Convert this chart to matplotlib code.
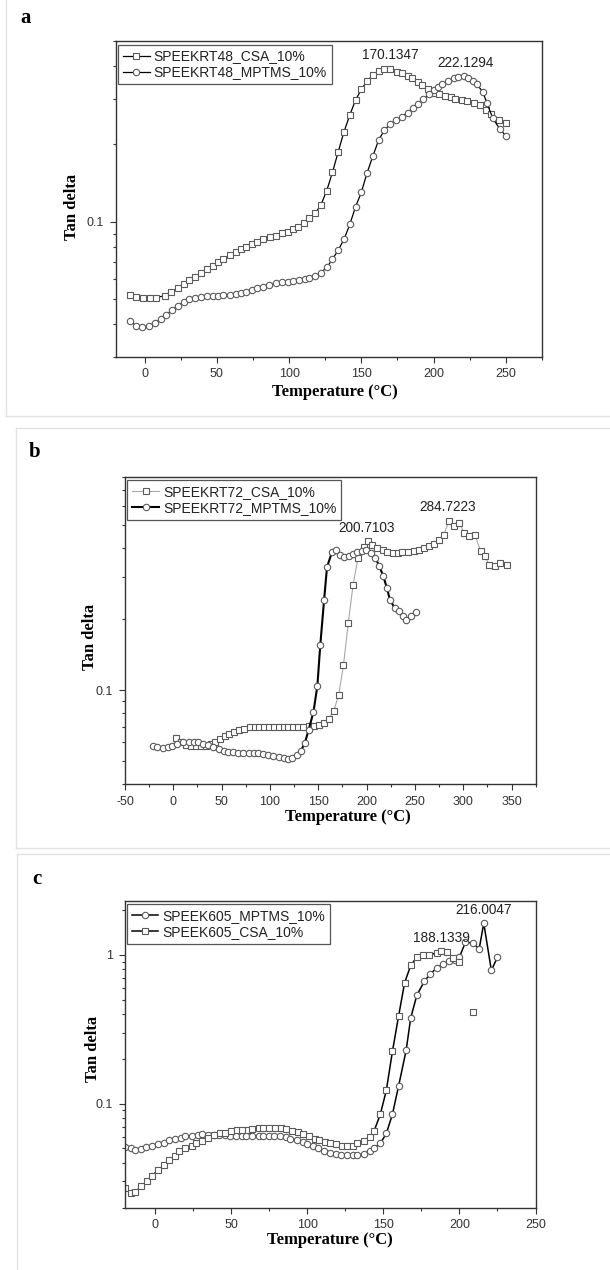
import numpy as np
import matplotlib
matplotlib.use("Agg")
import matplotlib.pyplot as plt
from matplotlib.ticker import MultipleLocator, FixedLocator, LogLocator, NullFormatter, FuncFormatter
from matplotlib.lines import Line2D

plt.rcParams["axes.unicode_minus"] = False

# ---- panel a: SPEEKRT48 ----
a_csa_t = [-10, -6, -1, 4, 8, 14, 18, 23, 27, 31, 35, 39, 43, 47, 51, 54, 59, 63, 67, 70,
           74, 78, 82, 87, 91, 95, 99, 103, 106, 110, 114, 118, 122, 126, 130, 134, 138, 142,
           146, 150, 154, 158, 162, 166, 170, 175, 178, 182, 185, 189, 192, 196, 200, 204,
           208, 212, 215, 220, 223, 228, 232, 236, 240, 245, 250]
a_csa_v = [0.0520, 0.0509, 0.0505, 0.0505, 0.0508, 0.0517, 0.0536, 0.0552, 0.0572, 0.0594,
           0.0612, 0.0631, 0.0654, 0.0676, 0.0696, 0.0715, 0.0743, 0.0765, 0.0781, 0.0800,
           0.0817, 0.0837, 0.0855, 0.0870, 0.0883, 0.0901, 0.0915, 0.0934, 0.0957, 0.0986,
           0.1030, 0.1078, 0.1161, 0.1319, 0.1553, 0.1868, 0.2233, 0.2591, 0.2963, 0.3259,
           0.3510, 0.3703, 0.3849, 0.3895, 0.3900, 0.381, 0.376, 0.367, 0.360, 0.349, 0.339,
           0.326, 0.316, 0.312, 0.307, 0.304, 0.299, 0.296, 0.294, 0.289, 0.283, 0.272, 0.262,
           0.248, 0.242]
a_mptms_t = [-10, -6, -2, 3, 7, 11, 15, 19, 23, 27, 31, 35, 39, 43, 47, 51, 54, 59, 63, 67,
             70, 74, 78, 82, 86, 91, 95, 99, 103, 107, 111, 114, 118, 122, 126, 130, 134, 138,
             142, 146, 150, 154, 158, 162, 166, 170, 174, 178, 182, 186, 189, 193, 197, 200,
             203, 206, 210, 214, 217, 221, 224, 227, 230, 234, 237, 241, 246, 250]
a_mptms_v = [0.0413, 0.0394, 0.0390, 0.0395, 0.0406, 0.0418, 0.0435, 0.0455, 0.0471, 0.0490,
             0.0500, 0.0508, 0.0512, 0.0515, 0.0515, 0.0517, 0.0520, 0.0520, 0.0523, 0.0528,
             0.0536, 0.0544, 0.0552, 0.0560, 0.0568, 0.0577, 0.0582, 0.0585, 0.0589, 0.0594,
             0.0598, 0.0607, 0.0616, 0.0635, 0.0665, 0.0715, 0.0777, 0.0854, 0.0976, 0.1143,
             0.130, 0.1549, 0.1798, 0.2074, 0.2267, 0.2391, 0.2479, 0.2553, 0.2646, 0.2752,
             0.2859, 0.2982, 0.3118, 0.3240, 0.3337, 0.3418, 0.3520, 0.3596, 0.3648, 0.3670,
             0.3615, 0.3520, 0.3407, 0.3190, 0.2877, 0.2517, 0.2281, 0.2154]
a_peak_text = ["170.1347", "222.1294"]
a_peak_pos = [(170, 0.443), (222, 0.413)]

# ---- panel b: SPEEKRT72 ----
b_csa_t = [3, 8, 13, 18, 23, 29, 34, 39, 43, 48, 53, 58, 63, 68, 73, 79, 84, 89, 94, 99,
           104, 109, 114, 119, 124, 129, 134, 140, 146, 151, 156, 161, 166, 171, 176, 181,
           186, 191, 197, 201, 206, 211, 217, 221, 227, 232, 237, 243, 249, 254, 259, 265,
           270, 275, 280, 285, 290, 296, 301, 306, 312, 318, 322, 327, 333, 338, 345]
b_csa_v = [0.0624, 0.0600, 0.0584, 0.0577, 0.0577, 0.0577, 0.0580, 0.0590, 0.0603, 0.0619,
           0.0636, 0.0650, 0.0665, 0.0678, 0.0687, 0.0694, 0.0698, 0.0698, 0.0698, 0.0698,
           0.0698, 0.0698, 0.0698, 0.0698, 0.0698, 0.0698, 0.0700, 0.0703, 0.0705, 0.0710,
           0.0728, 0.0757, 0.0816, 0.0950, 0.1271, 0.1924, 0.2793, 0.3618, 0.4026, 0.4255,
           0.4120, 0.3987, 0.3898, 0.3823, 0.3798, 0.3798, 0.3823, 0.3848, 0.3868, 0.3923,
           0.3987, 0.4052, 0.4159, 0.4296, 0.4538, 0.5218, 0.4950, 0.5080, 0.4610, 0.4490,
           0.4540, 0.3860, 0.3677, 0.3392, 0.3337, 0.3449, 0.3392]
b_mptms_t = [-21, -17, -11, -6, -1, 4, 10, 16, 21, 26, 31, 36, 41, 47, 52, 57, 62, 67, 72,
             78, 83, 88, 93, 98, 103, 109, 114, 119, 123, 128, 132, 136, 140, 145, 149, 152,
             156, 159, 164, 168, 172, 177, 182, 186, 190, 195, 199, 204, 209, 213, 217, 221,
             224, 229, 233, 238, 241, 246, 251]
b_mptms_v = [0.0577, 0.0571, 0.0566, 0.0571, 0.0581, 0.0590, 0.0600, 0.0605, 0.0603, 0.0600,
             0.0590, 0.0585, 0.0571, 0.0562, 0.0553, 0.0547, 0.0544, 0.0541, 0.0539, 0.0539,
             0.0541, 0.0539, 0.0536, 0.0530, 0.0523, 0.0518, 0.0513, 0.0510, 0.0513, 0.0530,
             0.0553, 0.0596, 0.0678, 0.0808, 0.1040, 0.1544, 0.2414, 0.3315, 0.3823, 0.3898,
             0.3736, 0.3652, 0.3700, 0.3773, 0.3823, 0.3860, 0.3923, 0.3798, 0.3617, 0.3359,
             0.3047, 0.2703, 0.2413, 0.2226, 0.2154, 0.2052, 0.1974, 0.2052, 0.2134]
b_peak_text = ["200.7103", "284.7223"]
b_peak_pos = [(200, 0.484), (284, 0.594)]

# ---- panel c: SPEEK605 ----
c_mptms_t = [-20, -16, -13, -9, -6, -2, 2, 6, 9, 13, 17, 20, 24, 28, 31, 35, 39, 42, 46, 49,
             53, 57, 60, 64, 68, 71, 75, 78, 82, 86, 89, 93, 97, 100, 104, 107, 111, 115, 119,
             122, 126, 130, 133, 137, 141, 144, 148, 152, 156, 160, 165, 168, 172, 177, 181,
             185, 189, 193, 197, 200, 204, 209, 213, 216, 221, 225]
c_mptms_v = [0.0512, 0.0499, 0.0486, 0.0494, 0.0507, 0.0520, 0.0533, 0.0547, 0.0567, 0.0582,
             0.0591, 0.0604, 0.0607, 0.0613, 0.0620, 0.0613, 0.0613, 0.0613, 0.0613, 0.0607,
             0.0604, 0.0604, 0.0607, 0.0607, 0.0607, 0.0607, 0.0607, 0.0607, 0.0604, 0.0597,
             0.0582, 0.0567, 0.0553, 0.0533, 0.0517, 0.0499, 0.0481, 0.0467, 0.0457, 0.0450,
             0.0450, 0.0450, 0.0450, 0.0457, 0.0481, 0.0504, 0.0539, 0.0629, 0.0848, 0.1307,
             0.228, 0.3757, 0.5335, 0.6658, 0.7458, 0.8139, 0.8612, 0.9022, 0.9256, 0.9646,
             1.216, 1.198, 1.097, 1.631, 0.785, 0.965]
c_csa_t = [-20, -16, -13, -9, -5, -2, 2, 6, 9, 13, 16, 20, 24, 27, 31, 35, 39, 43, 46, 50,
           54, 57, 61, 64, 68, 71, 75, 79, 83, 86, 90, 94, 97, 101, 105, 108, 112, 115, 119,
           123, 126, 130, 133, 137, 141, 144, 148, 152, 156, 160, 164, 168, 172, 176, 180,
           185, 188, 192, 196, 200]
c_csa_v = [0.0269, 0.0249, 0.0254, 0.0279, 0.0301, 0.0327, 0.0357, 0.0386, 0.0417, 0.0443,
           0.0479, 0.0499, 0.0520, 0.0539, 0.0562, 0.0589, 0.0610, 0.0629, 0.0636, 0.0652,
           0.0659, 0.0662, 0.0669, 0.0672, 0.0680, 0.0683, 0.0683, 0.0683, 0.0680, 0.0672,
           0.0656, 0.0639, 0.0623, 0.0604, 0.0582, 0.0567, 0.0553, 0.0539, 0.0531, 0.0520,
           0.0520, 0.0522, 0.0539, 0.0562, 0.0597, 0.0656, 0.0844, 0.1229, 0.2245, 0.3856,
           0.6489, 0.848, 0.964, 0.990, 1.0, 1.026, 1.053, 1.04, 0.95, 0.90]
c_csa_outlier_t = [209]
c_csa_outlier_v = [0.41]
c_peak_text = ["216.0047", "188.1339"]
c_peak_pos = [(216, 2.01), (188, 1.294)]

W, H = 610, 1270
SANS = "Liberation Sans"
SERIF = "Liberation Serif"

fig = plt.figure(figsize=(W / 100, H / 100), dpi=100, facecolor="white")


def add_axes(left, top, right, bottom):
    return fig.add_axes([left / W, 1 - bottom / H, (right - left) / W, (bottom - top) / H])


def style(ax, xlim, ylim, xmajor, ymajor):
    ax.set_yscale("log")
    ax.set_xlim(*xlim)
    ax.set_ylim(*ylim)
    ax.xaxis.set_major_locator(MultipleLocator(xmajor))
    ax.xaxis.set_minor_locator(MultipleLocator(xmajor / 2))
    ax.yaxis.set_major_locator(FixedLocator(ymajor))
    ax.yaxis.set_major_formatter(FuncFormatter(lambda v, _: f"{v:g}"))
    ax.yaxis.set_minor_locator(LogLocator(base=10, subs=np.arange(2, 10)))
    ax.yaxis.set_minor_formatter(NullFormatter())
    ax.tick_params(which="both", direction="out", top=False, right=False,
                   colors="#333333", labelsize=9, width=0.8)
    ax.tick_params(which="major", length=4.5, pad=4)
    ax.tick_params(which="minor", length=2.5)
    for lab in ax.get_xticklabels() + ax.get_yticklabels():
        lab.set_fontfamily(SANS)
    for sp in ax.spines.values():
        sp.set_color("#333333")
        sp.set_linewidth(1.0)


def series(ax, t, v, marker, label, color="black", lw=0.9):
    ax.plot(t, v, color=color, lw=lw, marker=marker, markersize=4.6,
            markerfacecolor="white", markeredgecolor="#5a5a5a", markeredgewidth=0.8,
            label=label)


def legend(ax):
    leg = ax.legend(loc="upper left", bbox_to_anchor=(0.006, 0.99), borderaxespad=0,
                    frameon=True, fancybox=False, edgecolor="#555555", framealpha=1,
                    prop={"family": SANS, "size": 10}, handlelength=1.9,
                    handletextpad=0.3, labelspacing=0.15, borderpad=0.35)
    leg.get_frame().set_linewidth(0.9)
    for txt in leg.get_texts():
        txt.set_color("#222222")


def peaks(ax, texts, positions):
    for s, (x, y) in zip(texts, positions):
        ax.text(x, y, s, ha="center", va="center", fontsize=9.8, family=SANS,
                color="#222222")


def labels(xc, yc_x, xc_y, yc_y):
    fig.text(xc / W, 1 - yc_x / H, "Temperature (°C)", ha="center", va="center",
             family=SERIF, fontweight="bold", fontsize=12)
    fig.text(xc_y / W, 1 - yc_y / H, "Tan delta", ha="center", va="center",
             rotation=90, family=SERIF, fontweight="bold", fontsize=12)


# panel a
ax_a = add_axes(115.8, 41.4, 541.9, 356.6)
series(ax_a, a_csa_t, a_csa_v, "s", "SPEEKRT48_CSA_10%")
series(ax_a, a_mptms_t, a_mptms_v, "o", "SPEEKRT48_MPTMS_10%")
style(ax_a, (-20, 275), (0.03, 0.5), 50, [0.1])
legend(ax_a)
peaks(ax_a, a_peak_text, a_peak_pos)
labels(335, 392, 72, 207)
fig.text(26 / W, 1 - 18 / H, "a", ha="center", va="center", family=SERIF,
         fontweight="bold", fontsize=15)

# panel b
ax_b = add_axes(125, 476.7, 535.8, 784)
series(ax_b, b_csa_t, b_csa_v, "s", "SPEEKRT72_CSA_10%", color="#a8a8a8", lw=0.8)
series(ax_b, b_mptms_t, b_mptms_v, "o", "SPEEKRT72_MPTMS_10%", lw=1.5)
style(ax_b, (-50, 375), (0.04, 0.8), 50, [0.1])
legend(ax_b)
peaks(ax_b, b_peak_text, b_peak_pos)
labels(348, 817, 90, 637)
fig.text(35 / W, 1 - 452 / H, "b", ha="center", va="center", family=SERIF,
         fontweight="bold", fontsize=15)

# panel c
ax_c = add_axes(124.6, 901, 535.5, 1207.5)
series(ax_c, c_mptms_t, c_mptms_v, "o", "SPEEK605_MPTMS_10%", lw=1.1)
series(ax_c, c_csa_t, c_csa_v, "s", "SPEEK605_CSA_10%", lw=1.1)
ax_c.plot(c_csa_outlier_t, c_csa_outlier_v, ls="none", marker="s", markersize=4.6,
          markerfacecolor="white", markeredgecolor="#5a5a5a", markeredgewidth=0.8)
style(ax_c, (-20, 250), (0.02, 2.3), 50, [0.1, 1])
legend(ax_c)
peaks(ax_c, c_peak_text, c_peak_pos)
labels(330, 1240, 93, 1049)
fig.text(37 / W, 1 - 879 / H, "c", ha="center", va="center", family=SERIF,
         fontweight="bold", fontsize=15)

# faint borders of the three stacked panels
for seg in [([6, 6], [0, 416]), ([6, 610], [416, 416]),
            ([16, 610], [428, 428]), ([16, 16], [428, 848]), ([16, 610], [848, 848]),
            ([17, 610], [854, 854]), ([17, 17], [854, 1270])]:
    xs = [x / W for x in seg[0]]
    ys = [1 - y / H for y in seg[1]]
    fig.add_artist(Line2D(xs, ys, transform=fig.transFigure, color="#e2e2e2", lw=1))

fig.savefig("out.png", dpi=100, facecolor="white")
